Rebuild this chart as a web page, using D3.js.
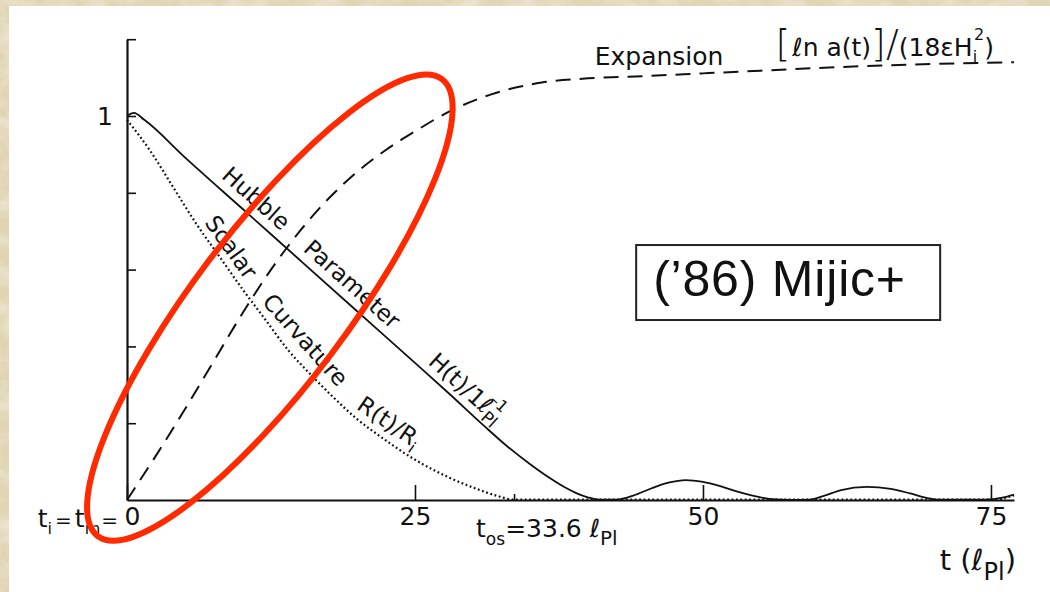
<!DOCTYPE html>
<html>
<head>
<meta charset="utf-8">
<script src="https://cdn.jsdelivr.net/npm/d3@7"></script>
<style>
  html, body { margin: 0; padding: 0; background: #e3d8ba; }
  svg { display: block; }
  .lett { font-family: 'DejaVu Sans', sans-serif; fill: #111; }
  .axis path, .axis line { stroke: #111; }
  .axis text { font-family: 'DejaVu Sans', sans-serif; fill: #111; }
</style>
</head>
<body>
<svg id="chart" width="1050" height="592"></svg>
<script>
// values: [t in l_Pl, normalised value]
const hubble = [
  [0, 1.0], [0.6, 1.008], [1.5, 0.99], [5, 0.893], [10, 0.759], [15, 0.625], [20, 0.491],
  [25, 0.357], [28, 0.276], [31, 0.193], [33, 0.14], [35, 0.093], [36.7, 0.057], [38, 0.033],
  [39, 0.018], [40, 0.007], [41, 0.001], [42.5, 0.001], [44, 0.012], [45.5, 0.03], [47, 0.045],
  [48.5, 0.052], [50, 0.047], [51.5, 0.036], [53, 0.022], [54.5, 0.01], [56, 0.002], [57.5, 0],
  [59.3, 0.001], [60.5, 0.011], [62, 0.026], [64.2, 0.034], [66.3, 0.029], [68, 0.017],
  [69.5, 0.005], [70.5, 0.001], [74.5, 0.001], [76, 0.006], [77, 0.014]
];
const scalarR = [
  [0, 0.99], [2, 0.91], [4, 0.815], [6, 0.72], [8, 0.635], [10, 0.55], [12, 0.47], [14, 0.39],
  [16, 0.325], [18, 0.265], [20, 0.21], [22, 0.165], [25, 0.105], [28, 0.058], [30, 0.033],
  [32, 0.012], [33.6, 0.001], [75.5, 0.001], [76.3, 0.006], [77, 0.012]
];
const expansion = [
  [0, 0], [2.5, 0.115], [5, 0.235], [7.5, 0.36], [10, 0.485], [12.5, 0.6], [15, 0.7],
  [17.5, 0.785], [20, 0.855], [22.5, 0.912], [25, 0.96], [28, 1.012], [32, 1.06], [36, 1.087],
  [40, 1.098], [45, 1.104], [50, 1.111], [55, 1.118], [60, 1.125], [66, 1.132], [72, 1.137], [77, 1.14]
];
const xTicks = [0, 25, 50, 75];
const yTicks = [0.2, 0.4, 0.6, 0.8, 1.0, 1.2];
const tOnset = 33.6;

const svg = d3.select('#chart');

// paper background + white scan
const defs = svg.append('defs');
const paper = defs.append('filter').attr('id', 'paper');
paper.append('feTurbulence').attr('type', 'fractalNoise').attr('baseFrequency', '0.035 0.06')
  .attr('numOctaves', 3).attr('seed', 7);
paper.append('feColorMatrix').attr('type', 'matrix')
  .attr('values', '0 0 0 0 1  0 0 0 0 0.98  0 0 0 0 0.9  0.9 0 0 0 -0.35');
svg.append('rect').attr('width', 1050).attr('height', 592).attr('fill', '#e0d4b4');
svg.append('rect').attr('width', 1050).attr('height', 592).attr('filter', 'url(#paper)');
svg.append('rect').attr('x', 9).attr('y', 6).attr('width', 1041).attr('height', 586).attr('fill', '#fff');

const x = d3.scaleLinear().domain([0, 77]).range([127, 1014]);
const y = d3.scaleLinear().domain([0, 1.2]).range([500, 39.2]);

// axes
const xAxis = svg.append('g').attr('class', 'axis')
  .attr('transform', `translate(0,${y(0)})`)
  .call(d3.axisBottom(x).tickValues(xTicks).tickSizeInner(-15).tickSizeOuter(0).tickPadding(7)
    .tickFormat(d3.format('d')));
xAxis.select('.domain').attr('stroke-width', 2.2);
xAxis.selectAll('line').attr('stroke-width', 1.6);
xAxis.selectAll('text').attr('font-size', 25).attr('dx', d => d === 0 ? 5 : 0);

const onsetAxis = svg.append('g').attr('class', 'axis')
  .attr('transform', `translate(0,${y(0)})`)
  .call(d3.axisBottom(x).tickValues([tOnset]).tickSizeInner(-6).tickSizeOuter(0).tickFormat(''));
onsetAxis.select('.domain').remove();
onsetAxis.selectAll('line').attr('stroke-width', 1.6);

const yAxis = svg.append('g').attr('class', 'axis')
  .attr('transform', `translate(${x(0)},0)`)
  .call(d3.axisLeft(y).tickValues(yTicks).tickSizeInner(-9).tickSizeOuter(0).tickPadding(14)
    .tickFormat(d => d === 1 ? '1' : ''));
yAxis.select('.domain').attr('stroke-width', 2.2);
yAxis.selectAll('line').attr('stroke-width', 1.6);
yAxis.selectAll('text').attr('font-size', 25);

// curves
const line = d3.line().x(d => x(d[0])).y(d => y(d[1])).curve(d3.curveMonotoneX);
svg.append('path').datum(expansion).attr('d', line).attr('fill', 'none')
  .attr('stroke', '#111').attr('stroke-width', 2).attr('stroke-dasharray', '15,9');
svg.append('path').datum(scalarR).attr('d', line).attr('fill', 'none')
  .attr('stroke', '#111').attr('stroke-width', 2.2).attr('stroke-dasharray', '1.8,2.6');
svg.append('path').datum(hubble).attr('d', line).attr('fill', 'none')
  .attr('stroke', '#111').attr('stroke-width', 1.8);

// lettering laid along a curve, angle taken between t0 and t1
function along(series, t0, t1, gap, size) {
  const f = d3.scaleLinear().domain(series.map(d => d[0])).range(series.map(d => d[1]));
  const px0 = x(t0), py0 = y(f(t0)), px1 = x(t1), py1 = y(f(t1));
  const ang = Math.atan2(py1 - py0, px1 - px0) * 180 / Math.PI;
  return svg.append('text').attr('class', 'lett').attr('font-size', size)
    .attr('transform', `translate(${px0},${py0}) rotate(${ang})`)
    .attr('y', -gap);
}

along(hubble, 7.6, 14, 9, 23).text('Hubble');
along(hubble, 14.7, 24, 9, 23).text('Parameter');
const hLab = along(hubble, 25.6, 32, 8, 23);
hLab.append('tspan').text('H(t)/1ℓ');
hLab.append('tspan').attr('font-size', 17).attr('dy', 6).text('Pl');
hLab.append('tspan').attr('font-size', 16).attr('dx', -20).attr('dy', -19).text('–1');

along(scalarR, 6.2, 11, 7, 23).text('Scalar');
along(scalarR, 11.2, 19.5, 7, 23).text('Curvature');
const rLab = along(scalarR, 19.5, 26, 7, 23);
rLab.append('tspan').text('R(t)/R');
rLab.append('tspan').attr('font-size', 16).attr('dy', 6).text('i');

// expansion label above the dashed curve
const fE = d3.scaleLinear().domain(expansion.map(d => d[0])).range(expansion.map(d => d[1]));
svg.append('text').attr('class', 'lett').attr('font-size', 25)
  .attr('x', x(40.6)).attr('y', y(fE(40.6)) - 13).text('Expansion');
const form = svg.append('text').attr('class', 'lett').attr('font-size', 25)
  .attr('x', x(56.3)).attr('y', y(fE(56.3)) - 14);
form.append('tspan').attr('font-size', 38).attr('font-weight', 300).text('[');
form.append('tspan').attr('dx', 2).text('ℓn a(t)');
form.append('tspan').attr('font-size', 38).attr('font-weight', 300).text(']');
form.append('tspan').attr('font-size', 38).attr('font-weight', 300).text('/');
form.append('tspan').text('(18εH');
form.append('tspan').attr('font-size', 16).attr('dy', 6).text('i');
form.append('tspan').attr('font-size', 16).attr('dx', -3).attr('dy', -22).text('2');
form.append('tspan').attr('dy', 16).text(')');

// axis annotations
svg.append('text').attr('class', 'lett').attr('font-size', 25)
  .attr('x', x(0) - 9).attr('y', y(0) + 27).attr('text-anchor', 'end')
  .call(t => {
    t.append('tspan').text('t');
    t.append('tspan').attr('font-size', 16).attr('dy', 7).text('i');
    t.append('tspan').attr('font-size', 20).attr('dx', 3).attr('dy', -7).text('=');
    t.append('tspan').attr('dx', 3).text('t');
    t.append('tspan').attr('font-size', 16).attr('dy', 7).text('m');
    t.append('tspan').attr('font-size', 20).attr('dx', 1).attr('dy', -7).text('=');
  });

svg.append('text').attr('class', 'lett').attr('font-size', 25)
  .attr('x', x(tOnset) - 38).attr('y', y(0) + 37)
  .call(t => {
    t.append('tspan').text('t');
    t.append('tspan').attr('font-size', 17).attr('dy', 8).text('os');
    t.append('tspan').attr('dy', -8).text('=33.6 ℓ');
    t.append('tspan').attr('font-size', 20).attr('dy', 8).text('Pl');
  });

svg.append('text').attr('class', 'lett').attr('font-size', 29)
  .attr('x', x(77) + 2).attr('y', y(0) + 70).attr('text-anchor', 'end')
  .call(t => {
    t.append('tspan').text('t (ℓ');
    t.append('tspan').attr('font-size', 24).attr('dy', 10).text('Pl');
    t.append('tspan').attr('dy', -10).text(')');
  });

// reference box
const noteAt = { t: 44.2, v: 0.664 };
svg.append('rect').attr('x', x(noteAt.t)).attr('y', y(noteAt.v)).attr('width', 304).attr('height', 75)
  .attr('fill', '#fff').attr('stroke', '#222').attr('stroke-width', 2);
svg.append('text').attr('x', x(noteAt.t) + 17).attr('y', y(noteAt.v) + 51)
  .attr('font-family', "'Liberation Sans', Arial, sans-serif").attr('font-size', 50)
  .attr('letter-spacing', 0.8).attr('fill', '#111')
  .text('(’86) Mijic+');

// red ring annotation
const ring = { t: 12.4, v: 0.501, rx: 286, ry: 77, angle: -53 };
svg.append('ellipse')
  .attr('transform', `translate(${x(ring.t)},${y(ring.v)}) rotate(${ring.angle})`)
  .attr('rx', ring.rx).attr('ry', ring.ry)
  .attr('fill', 'none').attr('stroke', '#ff2a00').attr('stroke-width', 6);
</script>
</body>
</html>
